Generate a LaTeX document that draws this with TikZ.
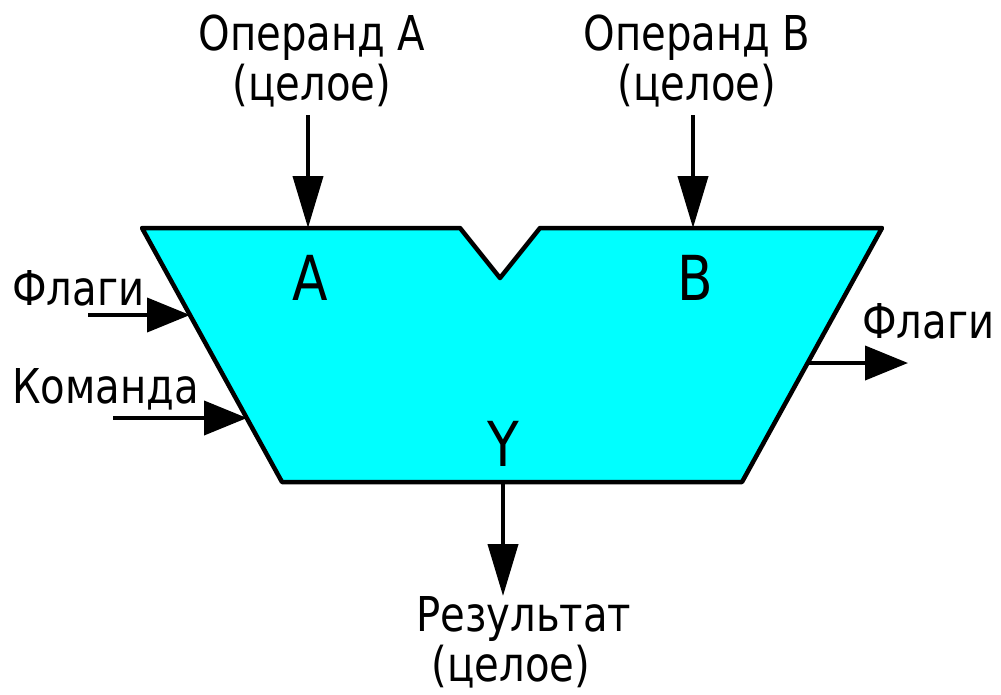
\documentclass[tikz,border=0pt]{standalone}
\usepackage{fontspec}
\setmainfont{DejaVu Sans Condensed}[FakeStretch=0.93]
\usetikzlibrary{arrows.meta}
\definecolor{alucyan}{HTML}{00FFFF}
\tikzset{
  lbl/.style={inner sep=0pt, anchor=base, font=\fontsize{48}{50}\selectfont, align=center},
  port/.style={inner sep=0pt, anchor=base, font=\fontsize{62}{62}\selectfont},
  varr/.style={line width=4pt, -{Triangle[length=52pt,width=30pt]}},
  harr/.style={line width=4pt, -{Triangle[length=43pt,width=34pt]}},
}
\begin{document}
\begin{tikzpicture}[x=1pt,y=-1pt]
\useasboundingbox (0,0) rectangle (1001,694);
% ALU body
\draw[line width=4.5pt, line join=round, fill=alucyan]
  (142,228) -- (460,228) -- (500,278) -- (540,228) -- (882,228)
  -- (742,482) -- (282,482) -- cycle;
% port points
\coordinate (pA) at (308,228);
\coordinate (pB) at (693,228);
\coordinate (pF) at (190,315);
\coordinate (pC) at (247,418);
\coordinate (pFo) at (808,363);
\coordinate (pY) at (503,482);
% labels inside
\node[port] (A) at (310,300) {A};
\node[port] (B) at (695,300) {B};
\node[port] (Y) at (503,466) {Y};
% outer labels (base anchor = baseline of last line)
\node[lbl] (opA) at (312,100) {Операнд А\\(целое)};
\node[lbl] (opB) at (697,100) {Операнд В\\(целое)};
\node[lbl, anchor=base west] (flin) at (12,305) {Флаги};
\node[lbl, anchor=base west] (cmd) at (12,403) {Команда};
\node[lbl, anchor=base west] (flout) at (862,338) {Флаги};
\node[lbl] (res) at (524,681) {Результат\\(целое)\hspace*{26pt}};
% free ends
\coordinate (sA) at (308,115);
\coordinate (sB) at (693,115);
\coordinate (sF) at (88,315);
\coordinate (sC) at (113,418);
\coordinate (eFo) at (908,363);
\coordinate (eY) at (503,596);
% connectors
\draw[varr] (sA) -- (pA);
\draw[varr] (sB) -- (pB);
\draw[harr] (sF) -- (pF);
\draw[harr] (sC) -- (pC);
\draw[harr] (pFo) -- (eFo);
\draw[varr] (pY) -- (eY);
\end{tikzpicture}
\end{document}
